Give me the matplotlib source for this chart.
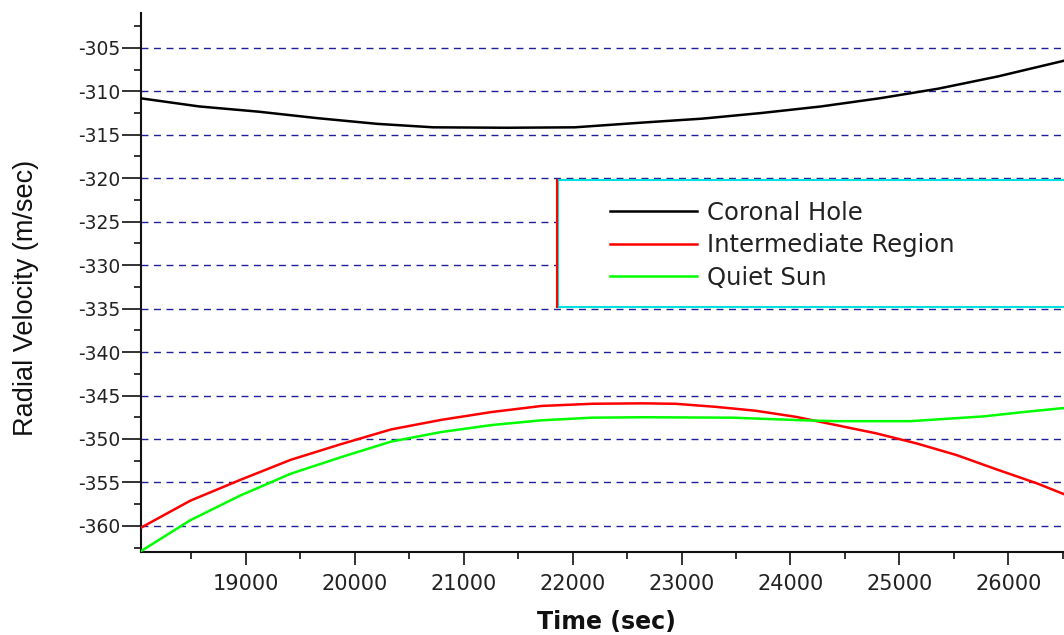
"""
Radial velocity vs time for three solar regions
"""

import matplotlib
matplotlib.use('Agg')
import matplotlib.pyplot as plt
from matplotlib.patches import Rectangle
from matplotlib.ticker import MultipleLocator

# Coronal Hole (black)
ch_time = [18030, 18575, 19118, 19662, 20206, 20722, 21400, 22020,
           22648, 23192, 23736, 24280, 24824, 25358, 25902, 26540]
ch_vel = [-310.8, -311.75, -312.35, -313.1, -313.75, -314.15, -314.2, -314.15,
          -313.6, -313.15, -312.5, -311.75, -310.8, -309.7, -308.3, -306.4]

# Intermediate Region (red)
ir_time = [18040, 18492, 18952, 19413, 19874, 20335, 20796, 21257, 21717,
           22180, 22640, 22943, 23312, 23680, 24049, 24418, 24786, 25155,
           25524, 25892, 26261, 26540]
ir_vel = [-360.2, -357.1, -354.7, -352.4, -350.6, -348.9, -347.8, -346.9, -346.2,
          -345.95, -345.9, -345.95, -346.3, -346.75, -347.45, -348.4, -349.35, -350.5,
          -351.85, -353.5, -355.1, -356.5]

# Quiet Sun (green)
qs_time = [18040, 18492, 18952, 19413, 19874, 20335, 20796, 21257, 21717,
           22177, 22640, 23469, 24114, 24418, 25100, 25469, 25773, 26141, 26540]
qs_vel = [-362.9, -359.35, -356.5, -354.0, -352.1, -350.3, -349.2, -348.4, -347.85,
          -347.55, -347.5, -347.55, -347.85, -347.95, -347.95, -347.65, -347.4, -346.9, -346.4]

labels = ['Coronal Hole', 'Intermediate Region', 'Quiet Sun']
colors = ['#000000', '#ff0000', '#00ff00']

plt.rcParams['axes.unicode_minus'] = False

fig = plt.figure(figsize=(10.64, 6.35), dpi=100)
ax = fig.add_axes([141 / 1064, 1 - 552 / 635, 923 / 1064, 539 / 635])

# Dashed horizontal grid
ax.yaxis.grid(True, linestyle=(0, (5, 4)), color='#1f1f99', linewidth=1.0)
ax.set_axisbelow(True)

for t, v, lab, c in zip([ch_time, ir_time, qs_time], [ch_vel, ir_vel, qs_vel], labels, colors):
    ax.plot(t, v, color=c, linewidth=1.8, label=lab, zorder=3)

ax.set_xlim(18040, 26510)
ax.set_ylim(-363, -301)

ax.xaxis.set_major_locator(MultipleLocator(1000))
ax.xaxis.set_minor_locator(MultipleLocator(500))
ax.yaxis.set_major_locator(MultipleLocator(5))
ax.yaxis.set_minor_locator(MultipleLocator(2.5))

for side in ['top', 'right']:
    ax.spines[side].set_visible(False)
for side in ['left', 'bottom']:
    ax.spines[side].set_linewidth(1.5)
    ax.spines[side].set_color('#111111')

ax.tick_params(axis='y', which='major', length=14, width=1.2, pad=1,
               labelsize=13.5, labelcolor='#222222', color='#111111')
ax.tick_params(axis='y', which='minor', length=5, width=1.2, color='#111111')
ax.tick_params(axis='x', which='major', length=9, width=1.2, pad=7,
               labelsize=15, labelcolor='#222222', color='#111111')
ax.tick_params(axis='x', which='minor', length=5, width=1.2, color='#111111')

ax.set_ylabel('Radial Velocity (m/sec)', family='Liberation Sans', fontsize=19.5,
              color='#111111')
ax.yaxis.set_label_coords(-0.111, 0.471)
ax.set_xlabel('Time (sec)', fontsize=17, fontweight='bold', color='#111111')
ax.xaxis.set_label_coords(0.504, -0.108)

# Legend frame: white box, cyan border, red left edge
box = Rectangle((0.4518, 0.4545), 0.6, 0.2356, transform=ax.transAxes,
                facecolor='white', edgecolor='#00e0e0', linewidth=1.5, zorder=4,
                clip_on=False)
ax.add_patch(box)
ax.plot([0.4505, 0.4505], [0.4545, 0.6901], transform=ax.transAxes,
        color='#ff0000', linewidth=1.5, zorder=5, clip_on=False)

leg = ax.legend(loc='upper left', bbox_to_anchor=((610 - 141) / 923, 0.652),
                frameon=False, fontsize=17.5, handlelength=3.58, handletextpad=0.41,
                labelspacing=0.35, borderpad=0, borderaxespad=0)
leg.set_zorder(6)
for txt in leg.get_texts():
    txt.set_color('#222222')

fig.savefig('out.png', dpi=100)
